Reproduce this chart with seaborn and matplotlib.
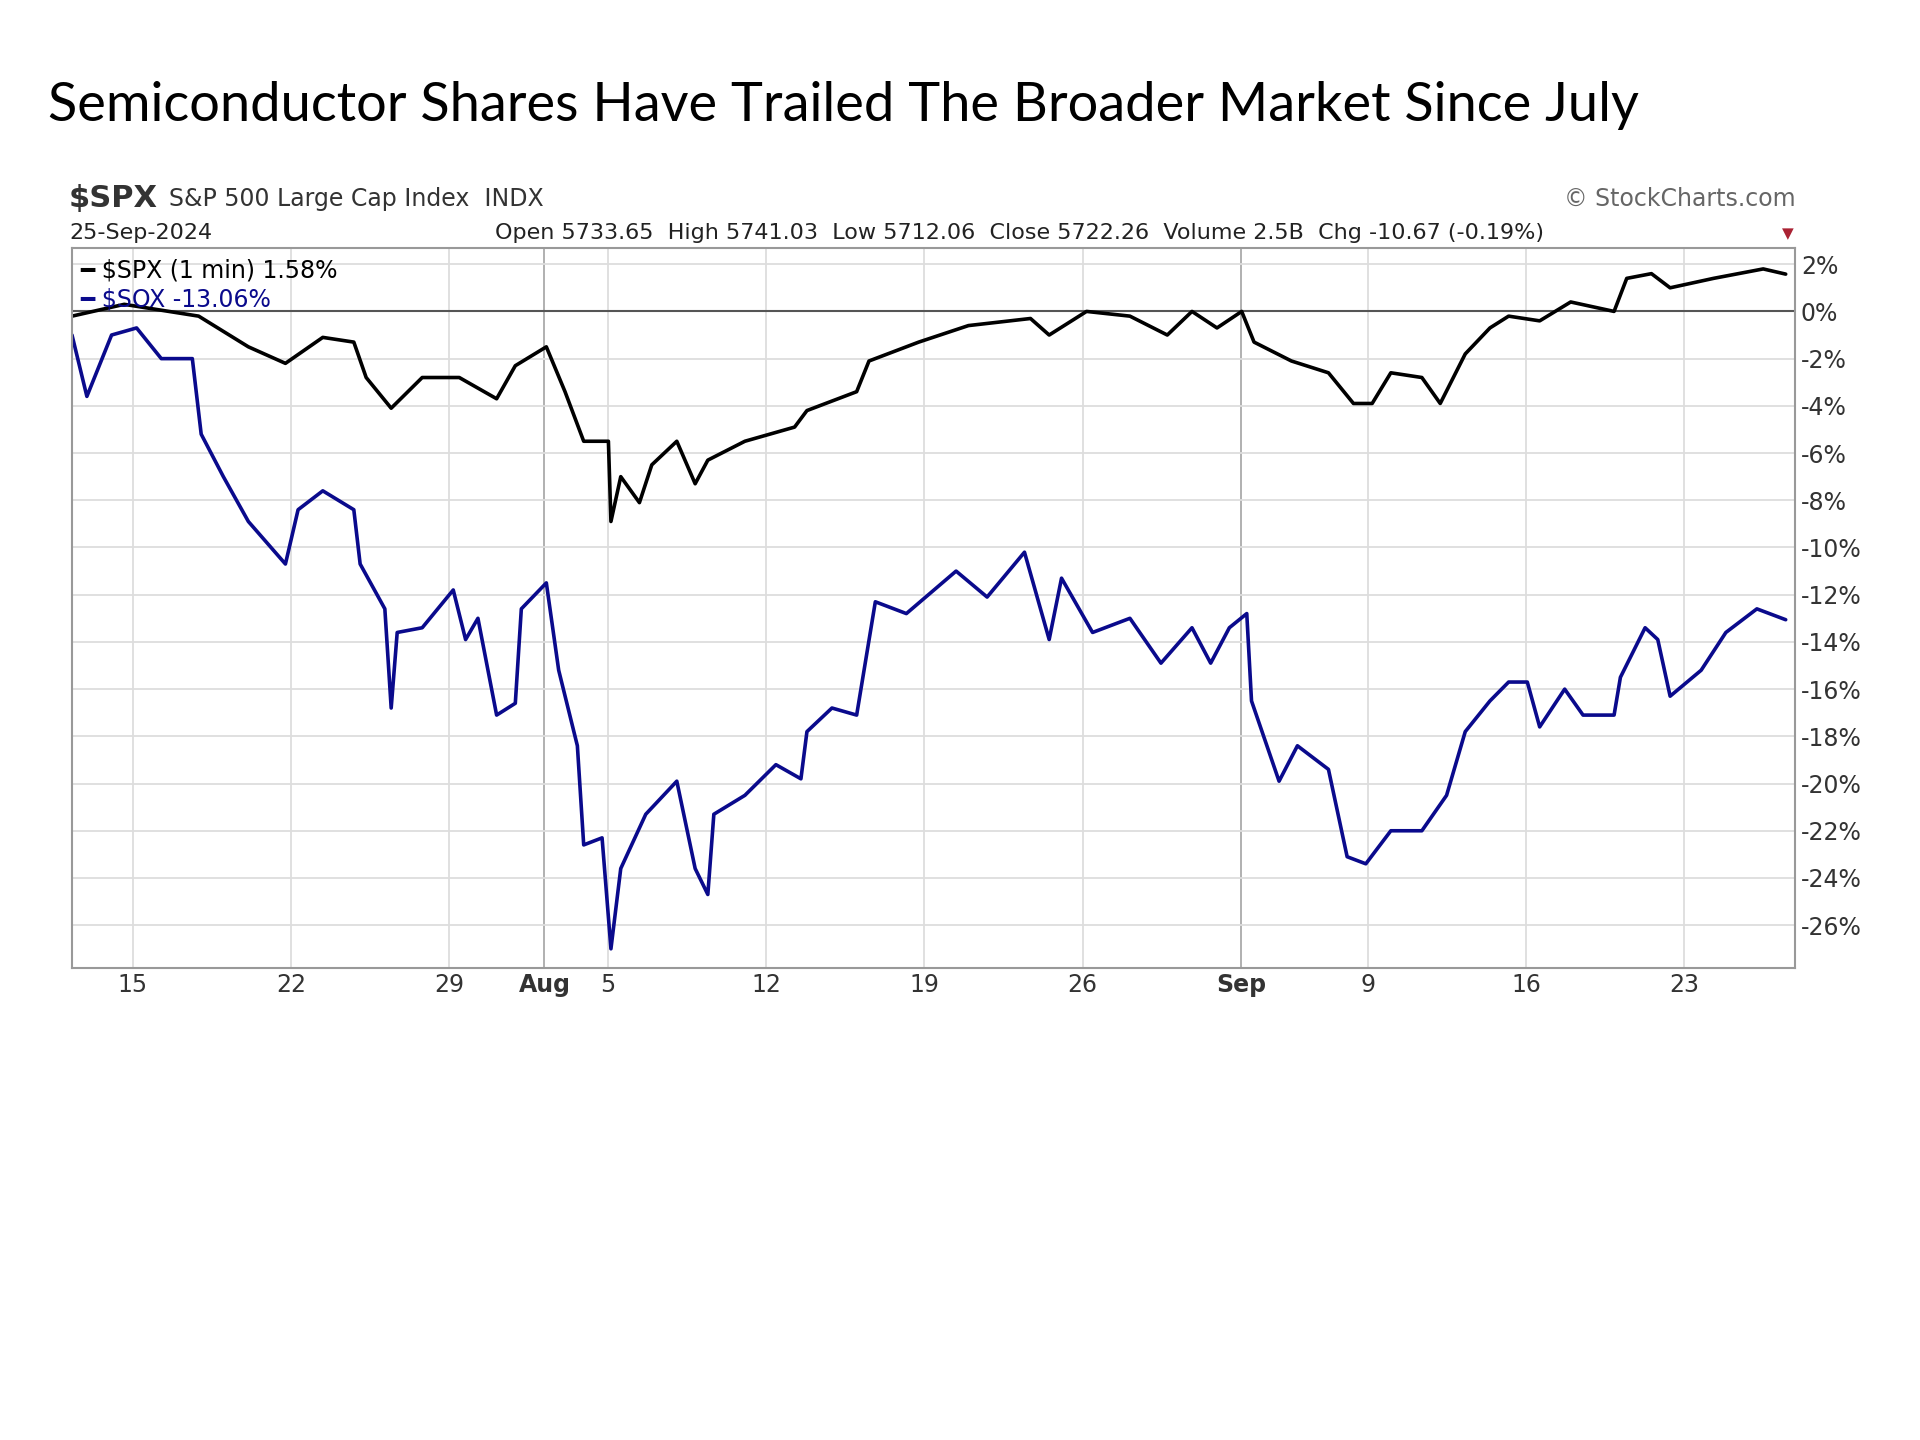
import numpy as np
import pandas as pd
import seaborn as sns
import matplotlib.pyplot as plt

# trading-day position (0 = Jul 15) and % change since start
spx_day = [-1.92, -0.27, 2.08, 3.65, 4.82, 6.0, 6.98, 7.37, 8.16, 9.14, 10.31, 11.49, 12.08, 13.06, 13.65,
           14.24, 15.02, 15.1, 15.41, 16.0, 16.39, 17.18, 17.76, 18.16, 19.33, 20.9, 21.29, 22.86, 23.25,
           24.82, 26.39, 28.35, 28.94, 30.12, 31.49, 32.67, 33.45, 34.24, 35.02, 35.41, 36.59, 37.76,
           38.55, 39.14, 39.73, 40.71, 41.29, 42.08, 42.86, 43.45, 44.43, 45.41, 46.78, 47.18, 47.96,
           48.55, 49.92, 51.49, 52.2]
spx_pct = [-0.2, 0.3, -0.2, -1.5, -2.2, -1.1, -1.3, -2.8, -4.1, -2.8, -2.8, -3.7, -2.3, -1.5, -3.4,
           -5.5, -5.5, -8.9, -7.0, -8.1, -6.5, -5.5, -7.3, -6.3, -5.5, -4.9, -4.2, -3.4, -2.1,
           -1.3, -0.6, -0.3, -1.0, 0.0, -0.2, -1.0, 0.0, -0.7, 0.0, -1.3, -2.1, -2.6,
           -3.9, -3.9, -2.6, -2.8, -3.9, -1.8, -0.7, -0.2, -0.4, 0.4, 0.0, 1.4, 1.6,
           1.0, 1.4, 1.8, 1.58]

sox_day = [-1.92, -1.45, -0.67, 0.12, 0.9, 1.88, 2.16, 2.86, 3.65, 4.82, 5.22, 6.0, 6.98, 7.18, 7.96,
           8.16, 8.35, 9.14, 10.12, 10.51, 10.9, 11.49, 12.08, 12.27, 13.06, 13.45, 14.04, 14.24,
           14.82, 15.1, 15.41, 16.2, 17.18, 17.76, 18.16, 18.35, 19.33, 20.31, 21.1, 21.29, 22.08,
           22.86, 23.45, 24.43, 26.0, 26.98, 28.16, 28.94, 29.33, 30.31, 31.49, 32.47, 33.45, 34.04,
           34.63, 35.18, 35.33, 36.2, 36.78, 37.76, 38.35, 38.94, 39.73, 40.71, 41.49, 42.08, 42.86,
           43.45, 44.04, 44.43, 45.22, 45.8, 46.78, 46.98, 47.76, 48.16, 48.55, 49.53, 50.31, 51.29, 52.2]
sox_pct = [-1.0, -3.6, -1.0, -0.7, -2.0, -2.0, -5.2, -7.0, -8.9, -10.7, -8.4, -7.6, -8.4, -10.7, -12.6,
           -16.8, -13.6, -13.4, -11.8, -13.9, -13.0, -17.1, -16.6, -12.6, -11.5, -15.2, -18.4, -22.6,
           -22.3, -27.0, -23.6, -21.3, -19.9, -23.6, -24.7, -21.3, -20.5, -19.2, -19.8, -17.8, -16.8,
           -17.1, -12.3, -12.8, -11.0, -12.1, -10.2, -13.9, -11.3, -13.6, -13.0, -14.9, -13.4, -14.9,
           -13.4, -12.8, -16.5, -19.9, -18.4, -19.4, -23.1, -23.4, -22.0, -22.0, -20.5, -17.8, -16.5,
           -15.7, -15.7, -17.6, -16.0, -17.1, -17.1, -15.5, -13.4, -13.9, -16.3, -15.2, -13.6, -12.6, -13.06]

tick_pos = [0, 5, 10, 13, 15, 20, 25, 30, 35, 39, 44, 49]
tick_lab = ["15", "22", "29", "Aug", "5", "12", "19", "26", "Sep", "9", "16", "23"]
y_ticks = list(range(2, -27, -2))

sns.set_style("white")
plt.rcParams["font.family"] = ["DejaVu Sans"]

fig = plt.figure(figsize=(19.2, 14.4), dpi=100)
ax = fig.add_axes([0.0375, 0.328, 0.8975, 0.5])

df = pd.concat([
    pd.DataFrame({"day": spx_day, "pct": spx_pct, "sym": "$SPX"}),
    pd.DataFrame({"day": sox_day, "pct": sox_pct, "sym": "$SOX"}),
])
sns.lineplot(data=df, x="day", y="pct", hue="sym", palette={"$SPX": "black", "$SOX": "#0a0a8c"},
             linewidth=2.6, ax=ax, legend=False, estimator=None, sort=False)

ax.axhline(0, color="#555555", lw=1.5, zorder=1)
for t in tick_pos:
    ax.axvline(t, color="#aaaaaa" if t in (13, 35) else "#dddddd", lw=1.3, zorder=0)
for t in y_ticks:
    ax.axhline(t, color="#dddddd", lw=1.3, zorder=0)

ax.set_xlim(-1.92, 52.5)
ax.set_ylim(-27.8, 2.7)
ax.set_xticks(tick_pos)
ax.set_xticklabels(tick_lab, fontsize=17, color="#333333")
for lbl in ax.get_xticklabels():
    if lbl.get_text() in ("Aug", "Sep"):
        lbl.set_fontweight("bold")
ax.yaxis.tick_right()
ax.set_yticks(y_ticks)
ax.set_yticklabels([f"{v}%" for v in y_ticks], fontsize=17, color="#333333")
ax.tick_params(length=0, pad=4)
ax.set_xlabel("")
ax.set_ylabel("")
for s in ax.spines.values():
    s.set_color("#999999")
    s.set_linewidth(1.5)

ax.text(0.005, 0.985, "━ $SPX (1 min) 1.58%", transform=ax.transAxes, fontsize=17, va="top", color="black")
ax.text(0.005, 0.945, "━ $SOX -13.06%", transform=ax.transAxes, fontsize=17, va="top", color="#0a0a8c")

fig.text(0.025, 0.927, "Semiconductor Shares Have Trailed The Broader Market Since July",
         fontsize=39, family=["Lato", "DejaVu Sans"], va="center", color="black")
fig.text(0.036, 0.862, "$SPX", fontsize=22, fontweight="bold", color="#333333", va="center")
fig.text(0.088, 0.862, "S&P 500 Large Cap Index  INDX", fontsize=17, color="#333333", va="center")
fig.text(0.036, 0.838, "25-Sep-2024", fontsize=16, color="#222222", va="center")
fig.text(0.935, 0.862, "© StockCharts.com", fontsize=17, color="#666666", va="center", ha="right")
fig.text(0.258, 0.838, "Open 5733.65  High 5741.03  Low 5712.06  Close 5722.26  Volume 2.5B  Chg -10.67 (-0.19%)",
         fontsize=16, color="#222222", va="center")
fig.text(0.928, 0.838, "▼", fontsize=11, color="#aa2233", va="center")

fig.savefig("out.png", dpi=100)
